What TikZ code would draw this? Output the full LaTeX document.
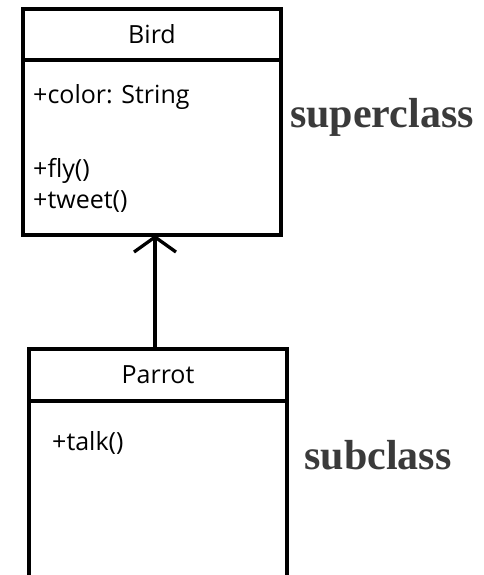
\documentclass[tikz,border=0pt]{standalone}
\usepackage{fontspec}
\setmainfont{Open Sans}
\newfontfamily\labelfont{Liberation Serif}
\usetikzlibrary{arrows.meta,positioning}

\definecolor{labelgray}{HTML}{3A3A3A}

\tikzset{
  classpart/.style={draw, line width=3.3pt, minimum width=258pt, minimum height=51pt,
    inner sep=0pt, outer sep=0pt, font=\fontsize{25}{29}\selectfont},
  member/.style={anchor=base west, inner sep=0pt, font=\fontsize{25}{29}\selectfont},
  side/.style={font=\labelfont\bfseries\fontsize{42}{48}\selectfont, text=labelgray}
}

\begin{document}
\begin{tikzpicture}[x=1pt, y=-1pt]
\useasboundingbox (0,0) rectangle (484,575);
\clip (0,0) rectangle (484,575);

% superclass
\node[classpart] (bird) at (152,34.5) {Bird};
\node[classpart, minimum height=175pt, below=0pt of bird] (birdbody) {};
\node[member] (color) at (33,103) {+color: String};
\node[member] (fly) at (33,177) {+fly()};
\node[member] (tweet) at (33,208) {+tweet()};

% subclass, runs off the bottom edge
\node[classpart, minimum height=52pt] (parrot) at (158,375) {Parrot};
\node[classpart, minimum height=200pt, below=0pt of parrot] (parrotbody) {};
\node[member] (talk) at (52,450) {+talk()};

% generalization
\draw[line width=3.3pt, -{Straight Barb[length=15pt, width=42pt]}]
  ([xshift=-3pt]parrot.north) -- ([xshift=3pt]birdbody.south);

\node[side] (super) at (382,117) {superclass};
\node[side] (sub) at (378,455) {subclass};
\end{tikzpicture}
\end{document}
